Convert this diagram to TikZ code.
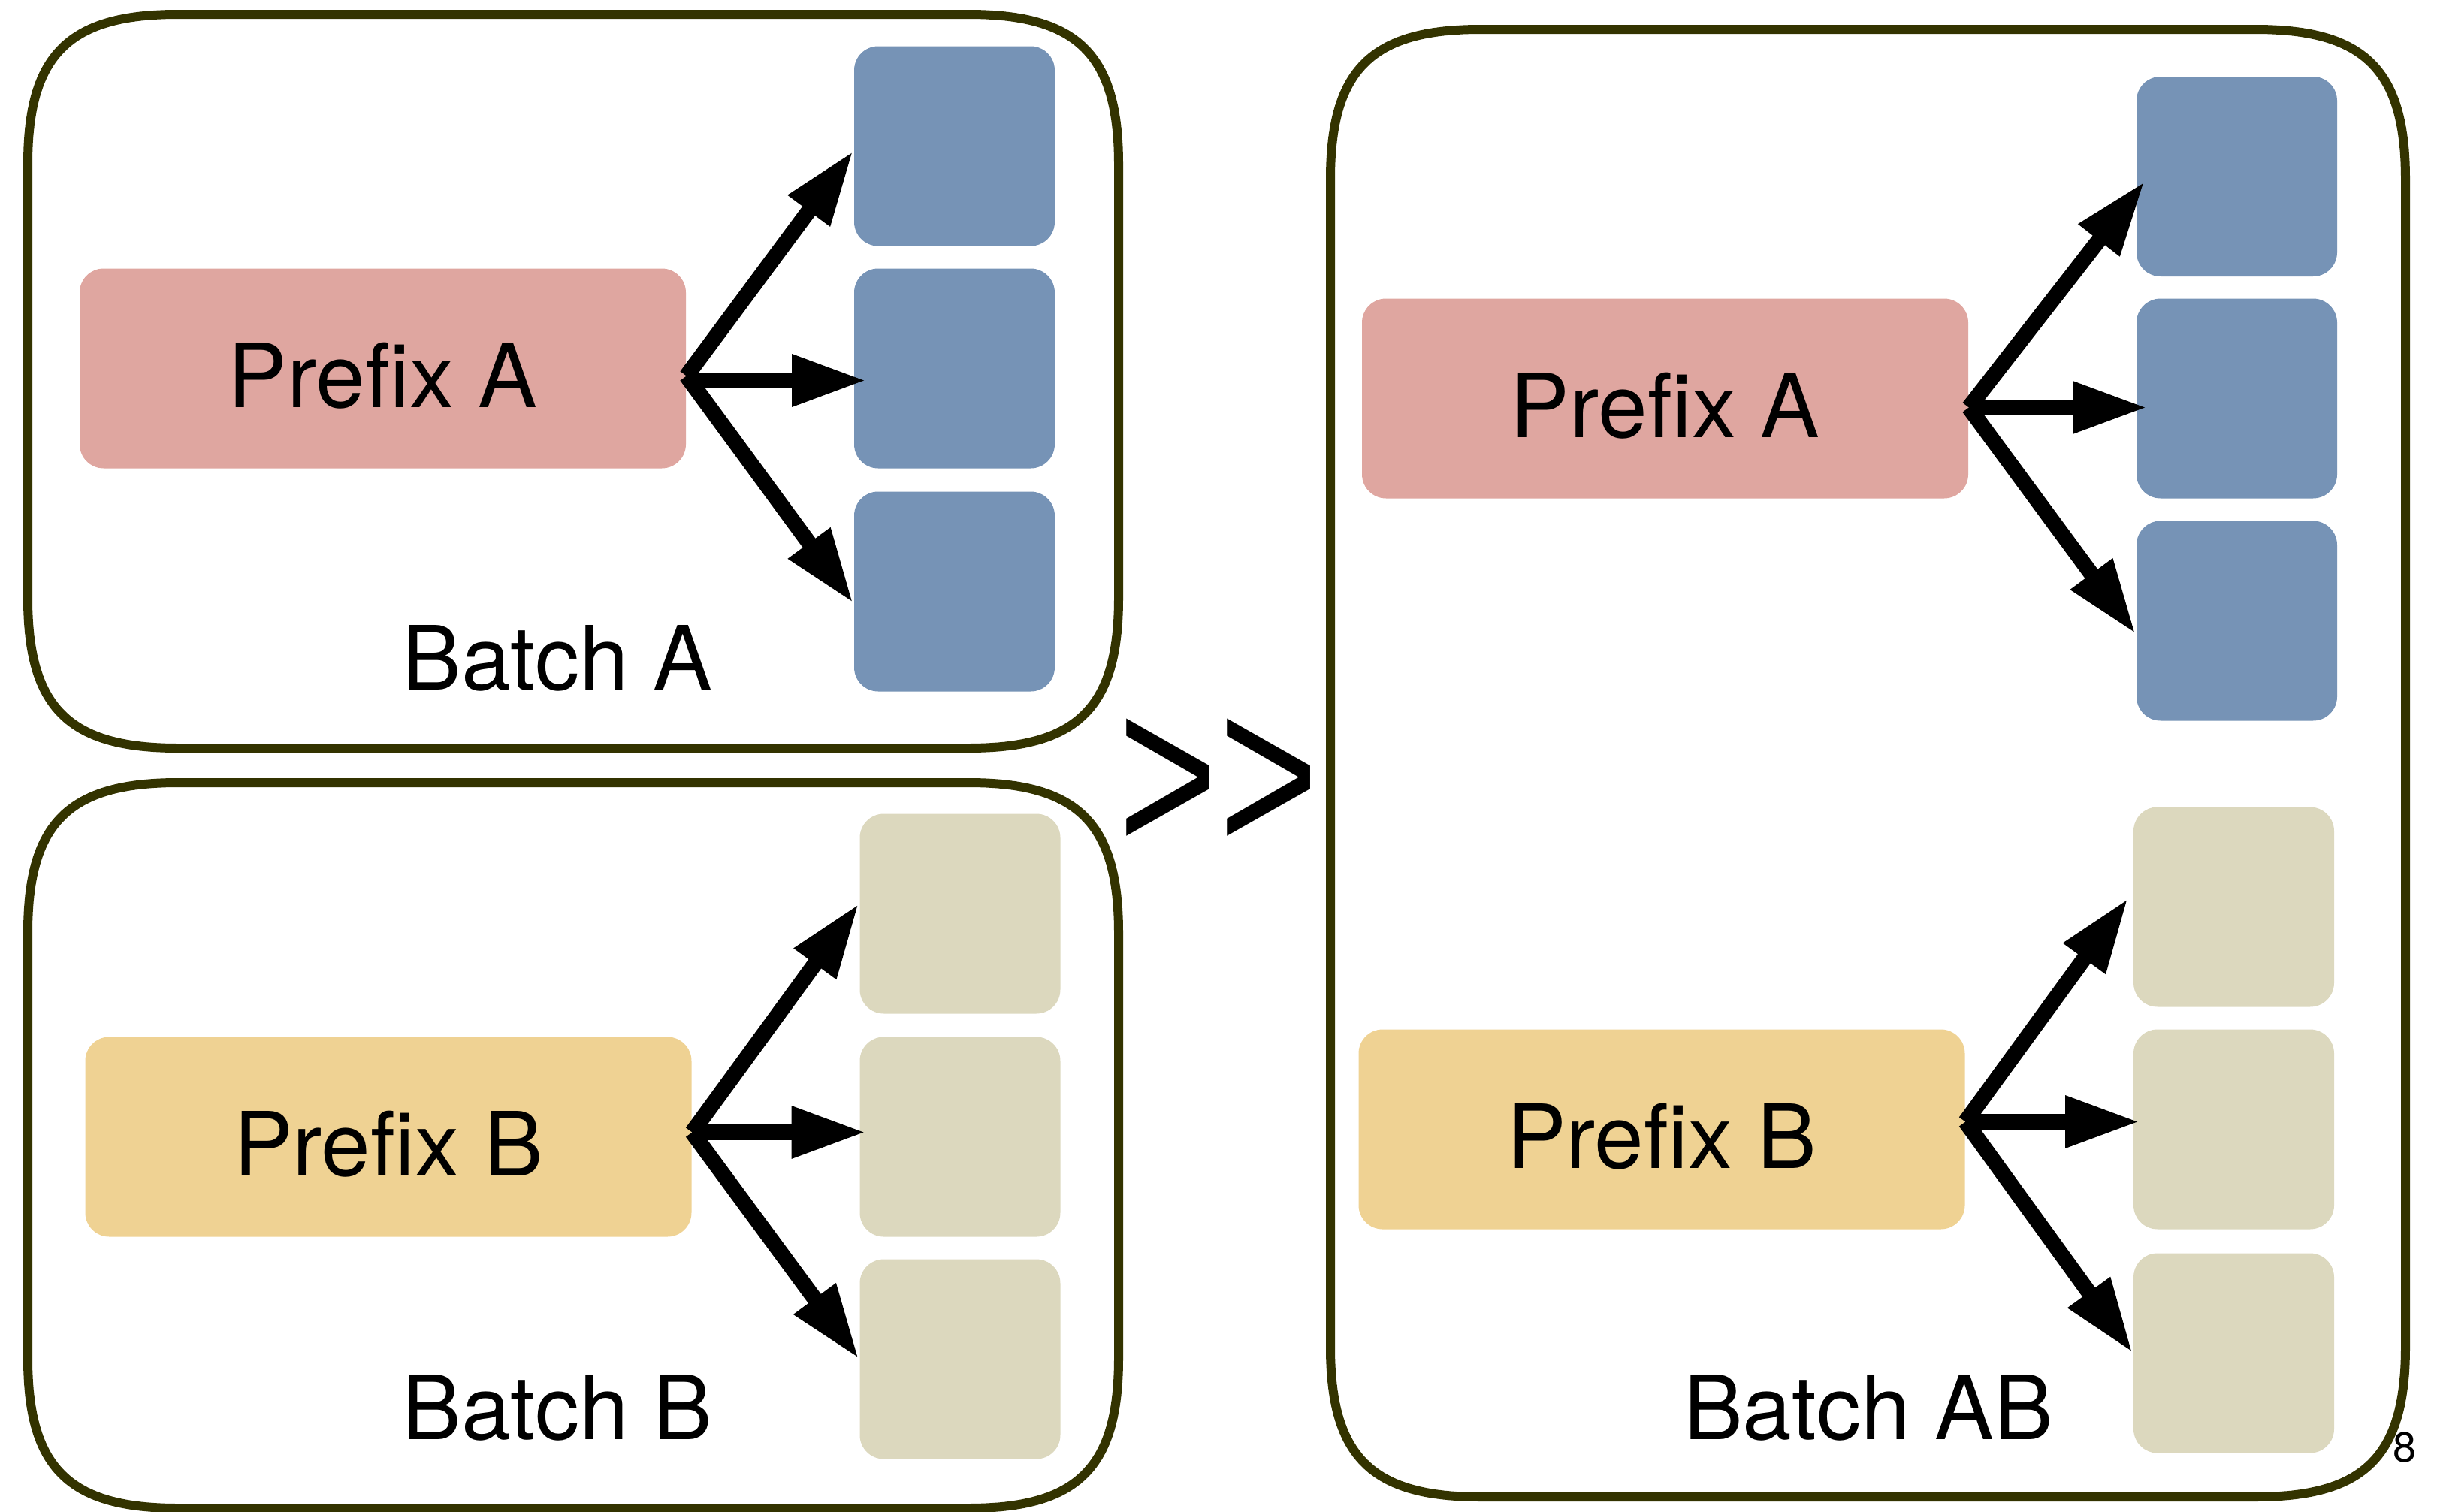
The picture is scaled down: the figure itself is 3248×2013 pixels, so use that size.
\documentclass[tikz,border=0pt]{standalone}
\usepackage{fontspec}
\setmainfont{TeX Gyre Heros}
\newfontfamily\signfont{Liberation Sans}
\usetikzlibrary{arrows.meta}

\definecolor{frameol}{RGB}{51,51,0}
\definecolor{prefA}{RGB}{223,166,160}
\definecolor{prefB}{RGB}{239,210,147}
\definecolor{tokA}{RGB}{118,147,182}
\definecolor{tokB}{RGB}{220,216,190}

\newcommand\labelfont{\fontsize{29.5}{32}\selectfont}

% batch container with smooth (squircle-like) corners: x0 y0 x1 y1 R
\newcommand\sqframe[5]{%
  \draw[batchframe] (#1+#5,#2) -- (#3-#5,#2)
    .. controls (#3-0.27*#5,#2) and (#3,#2+0.27*#5) .. (#3,#2+#5)
    -- (#3,#4-#5)
    .. controls (#3,#4-0.27*#5) and (#3-0.27*#5,#4) .. (#3-#5,#4)
    -- (#1+#5,#4)
    .. controls (#1+0.27*#5,#4) and (#1,#4-0.27*#5) .. (#1,#4-#5)
    -- (#1,#2+#5)
    .. controls (#1,#2+0.27*#5) and (#1+0.27*#5,#2) .. cycle;}

\begin{document}
\begin{tikzpicture}[x=0.25pt,y=-0.25pt,
  batchframe/.style={draw=frameol, line width=3pt},
  prefixbox/.style={rounded corners=8pt, minimum width=201.75pt, minimum height=66.5pt,
    inner sep=0pt, font=\labelfont, text height=26pt, text depth=0pt},
  tokbox/.style={rounded corners=8pt, minimum width=66.75pt, minimum height=66.5pt, inner sep=0pt},
  fan/.style={line width=5.2pt, -{Triangle[length=25pt,width=16pt]}},
  batchlabel/.style={anchor=base, font=\labelfont, inner sep=0pt}]

\useasboundingbox (0,0) rectangle (3248,2013);

% containers
\sqframe{37}{19}{1489}{996}{200}
\sqframe{37}{1042}{1489}{2008}{200}
\sqframe{1771}{39}{3202}{1993}{200}

% ---- Batch A ----
\node[prefixbox, fill=prefA] (pa) at (509.5,490.5) {Prefix A};
\node[tokbox, fill=tokA] (la1) at (1270.5,194.5) {};
\node[tokbox, fill=tokA] (la2) at (1270.5,490.5) {};
\node[tokbox, fill=tokA] (la3) at (1270.5,787.5) {};
\coordinate (oa) at ([yshift=-2.5pt]pa.east);
\coordinate (ma) at ([yshift=-4pt]pa.east);
\draw[fan] (oa) -- ([yshift=-1.5pt]la1.west);
\draw[fan] (ma) -- ([xshift=4.5pt]ma -| la2.west);
\draw[fan] (oa) -- ([yshift=-4pt]la3.west);
\node[batchlabel] (ba) at (742,918) {Batch A};

% ---- Batch B ----
\node[prefixbox, fill=prefB] (pb) at (517,1513.5) {Prefix B};
\node[tokbox, fill=tokB] (lb1) at (1278,1216.5) {};
\node[tokbox, fill=tokB] (lb2) at (1278,1513.5) {};
\node[tokbox, fill=tokB] (lb3) at (1278,1809.5) {};
\coordinate (ob) at ([yshift=1.5pt]pb.east);
\draw[fan] (ob) -- ([yshift=3.5pt]lb1.west);
\draw[fan] (ob) -- ([xshift=2.5pt]ob -| lb2.west);
\draw[fan] (ob) -- (lb3.west);
\node[batchlabel] (bb) at (742,1916) {Batch B};

% ---- Batch AB ----
\node[prefixbox, fill=prefA] (rpa) at (2216.5,530.5) {Prefix A};
\node[tokbox, fill=tokA] (ra1) at (2977.5,235) {};
\node[tokbox, fill=tokA] (ra2) at (2977.5,530.5) {};
\node[tokbox, fill=tokA] (ra3) at (2977.5,826.5) {};
\coordinate (ora) at ([yshift=-3pt]rpa.east);
\draw[fan] (ora) -- ([yshift=-1.5pt,xshift=3pt]ra1.west);
\draw[fan] (ora) -- ([xshift=4pt]ora -| ra2.west);
\draw[fan] (ora) -- ([yshift=-4.5pt]ra3.west);

\node[prefixbox, fill=prefB] (rpb) at (2212,1503.5) {Prefix B};
\node[tokbox, fill=tokB] (rb1) at (2973.5,1207.5) {};
\node[tokbox, fill=tokB] (rb2) at (2973.5,1503.5) {};
\node[tokbox, fill=tokB] (rb3) at (2973.5,1801.5) {};
\coordinate (orb) at ([yshift=2.5pt]rpb.east);
\draw[fan] (orb) -- ([yshift=3pt,xshift=-1.5pt]rb1.west);
\draw[fan] (orb) -- ([xshift=2.5pt]orb -| rb2.west);
\draw[fan] (orb) -- (rb3.west);
\node[batchlabel] (bab) at (2487,1916) {Batch AB};

% comparison sign and page number
\node[inner sep=0pt, font=\signfont\fontsize{77}{80}\selectfont] (gt) at (1622,1047)
  {\scalebox{0.74}[1]{\mbox{>}\mbox{>}}};
\node[inner sep=0pt, font=\fontsize{14}{16}\selectfont] (pg) at (3201,1927) {8};

\end{tikzpicture}
\end{document}
